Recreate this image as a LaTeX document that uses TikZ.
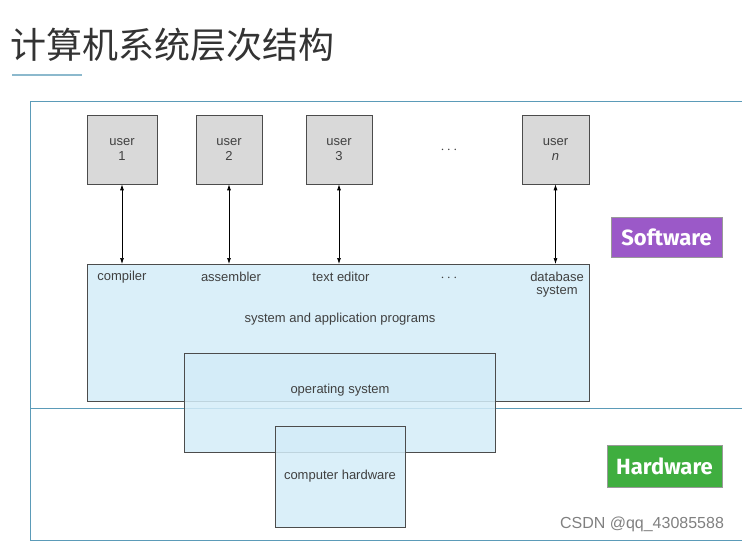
\documentclass[tikz,border=0pt]{standalone}
\usepackage{fontspec}
\setmainfont{Liberation Sans}
\newfontfamily\cjk{Noto Sans CJK SC}
\newfontfamily\tagfont{Fira Sans}
\usetikzlibrary{arrows.meta}
\usetikzlibrary{positioning}
\definecolor{frameblue}{HTML}{5B9BB8}
\definecolor{layerfill}{HTML}{D3ECF8}
\definecolor{userfill}{HTML}{D9D9D9}
\definecolor{swpurple}{HTML}{9B59C8}
\definecolor{hwgreen}{HTML}{3FAE3F}
\begin{document}
\begin{tikzpicture}[
					x=1pt, y=-1pt,
					line width=0.2mm,
					arrow/.style={line width=0.25mm, {Latex[length=6pt,width=4pt]}-{Latex[length=6pt,width=4pt]}},
					user/.style={draw=black!70, fill=userfill, minimum width=70pt, minimum height=69pt, align=center, font=\fontsize{13}{15}\selectfont, text=black!75},
					layer/.style={draw=black!70, fill=layerfill, fill opacity=0.85, text opacity=1},
					lbl/.style={font=\fontsize{13}{15}\selectfont, text=black!75, align=center},
					tag/.style={text=white, font=\tagfont\bfseries\fontsize{22}{24}\selectfont, inner sep=3pt},
				]
					\useasboundingbox (0,0) rectangle (742,543);
					% title
					\node (title) [anchor=west, font=\cjk\fontsize{36}{40}\selectfont, text=black!80, inner sep=0pt] at (10,45) {计算机系统层次结构};
					\draw[frameblue!70, line width=0.6mm] (12,75) -- (82,75);
					% frame
					\draw[frameblue] (30,540) -- (30,101) -- (745,101);
					\draw[frameblue] (30,408) -- (745,408);
					\draw[frameblue] (30,540) -- (745,540);
					% users
					\node (u1) [user] at (122,149.5) {user\\1};
					\node (u2) [user, minimum width=66pt] at (229,149.5) {user\\2};
					\node (u3) [user, minimum width=66pt] at (339,149.5) {user\\3};
					\node (un) [user, minimum width=67pt] at (555.5,149.5) {user\\\textit{n}};
					\node (udots) [lbl, font=\bfseries\fontsize{15}{15}\selectfont] at (449,150) {$\cdots$};
					% layers
					\draw[layer] (87,264) rectangle (589,401);
					\draw[layer] (184,353) rectangle (495,452);
					\draw[layer] (275,426) rectangle (405,527);
					\coordinate (b1) at (122,264);
					\coordinate (b2) at (229,264);
					\coordinate (b3) at (339,264);
					\coordinate (bn) at (555.5,264);
					\node (comp) [lbl] at (122,277) {compiler};
					\node (asm) [lbl] at (231,277) {assembler};
					\node (edit) [lbl] at (341,277) {text editor};
					\node (ldots) [lbl, font=\bfseries\fontsize{15}{15}\selectfont] at (449,278) {$\cdots$};
					\node (db) [lbl] at (557,285) {database\\[-2pt]system};
					\node (sap) [lbl] at (340,319) {system and application programs};
					\node (os) [lbl] at (340,390) {operating system};
					\node (hw) [lbl] at (340,476) {computer hardware};
					\draw[arrow] (u1) -- (b1);
					\draw[arrow] (u2) -- (b2);
					\draw[arrow] (u3) -- (b3);
					\draw[arrow] (un) -- (bn);
					% tags
					\node (sw) [tag, fill=swpurple, draw=black!40, minimum width=111pt, minimum height=40pt] at (666.5,237) {Software};
					\node (hwtag) [tag, fill=hwgreen, draw=black!40, minimum width=115pt, minimum height=42pt] at (664.5,466) {Hardware};
					\node (mark) [font=\fontsize{16}{18}\selectfont, text=black!50] at (642,524) {CSDN @qq\_43085588};
				\end{tikzpicture}
\end{document}
